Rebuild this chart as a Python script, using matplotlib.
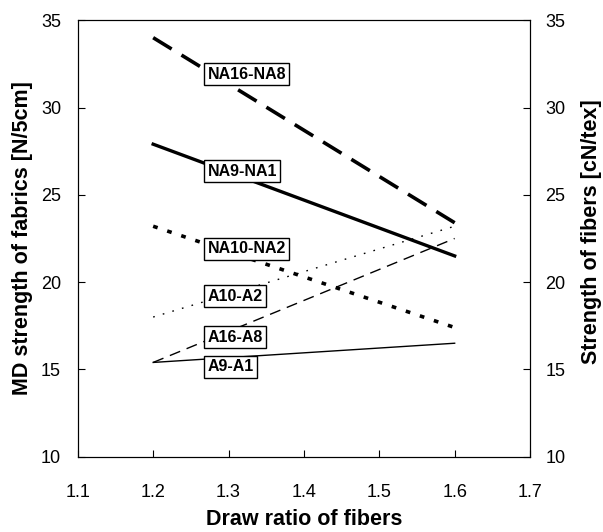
import matplotlib.pyplot as plt

plt.rcParams['font.family'] = ['Liberation Sans', 'DejaVu Sans']

# draw ratio of fibers
draw_ratio = [1.2, 1.6]

# strength values
na16_na8 = [34.0, 23.4]
na9_na1 = [27.9, 21.5]
na10_na2 = [23.2, 17.4]
a10_a2 = [18.0, 23.2]
a16_a8 = [15.4, 22.5]
a9_a1 = [15.4, 16.5]

labels = ['NA16-NA8', 'NA9-NA1', 'NA10-NA2', 'A10-A2', 'A16-A8', 'A9-A1']
label_y = [31.9, 26.35, 21.9, 19.2, 16.85, 15.15]

x_ticks = [1.1, 1.2, 1.3, 1.4, 1.5, 1.6, 1.7]
y_ticks = [10, 15, 20, 25, 30, 35]

fig = plt.figure(figsize=(6.03, 5.32), dpi=100)
ax = fig.add_axes([0.129, 0.1415, 0.750, 0.8205])

ax.plot(draw_ratio, na16_na8, color='black', lw=2.6, dashes=(6, 3.2))
ax.plot(draw_ratio, na9_na1, color='black', lw=2.4)
ax.plot(draw_ratio, na10_na2, color='black', lw=2.6, dashes=(1.3, 2.8))
ax.plot(draw_ratio, a10_a2, color='black', lw=1.0, dashes=(1.2, 6))
ax.plot(draw_ratio, a16_a8, color='black', lw=1.0, dashes=(8, 5))
ax.plot(draw_ratio, a9_a1, color='black', lw=1.0)

# boxed labels next to each line
for lab, ly in zip(labels, label_y):
    ax.text(1.272, ly, lab, ha='left', va='center', fontsize=11.5,
            fontweight='bold',
            bbox=dict(boxstyle='square,pad=0.22', fc='white', ec='black', lw=1.0))

ax.set_xlim(1.1, 1.7)
ax.set_ylim(10, 35)
ax.set_xticks(x_ticks)
ax.set_xticklabels(['%.1f' % t for t in x_ticks])
ax.set_yticks(y_ticks)
ax.tick_params(axis='both', direction='in', length=5, labelsize=13, top=False)
ax.tick_params(axis='x', pad=20)
ax.tick_params(axis='y', pad=12)

ax.set_xlabel('Draw ratio of fibers', fontsize=15.5, fontweight='bold')
ax.xaxis.set_label_coords(0.5, -0.143)
ax.xaxis.label.set_va('center')
ax.set_ylabel('MD strength of fabrics [N/5cm]', fontsize=15.5, fontweight='bold')
ax.yaxis.set_label_coords(-0.123, 0.5)
ax.yaxis.label.set_va('center')

ax2 = ax.twinx()
ax2.set_ylim(10, 35)
ax2.set_yticks(y_ticks)
ax2.tick_params(axis='y', direction='in', length=5, labelsize=13, pad=11)
ax2.set_ylabel('Strength of fibers [cN/tex]', fontsize=15.5, fontweight='bold', rotation=90)
ax2.yaxis.set_label_coords(1.137, 0.515)
ax2.yaxis.label.set_va('center')

fig.savefig('out.png', dpi=100)
